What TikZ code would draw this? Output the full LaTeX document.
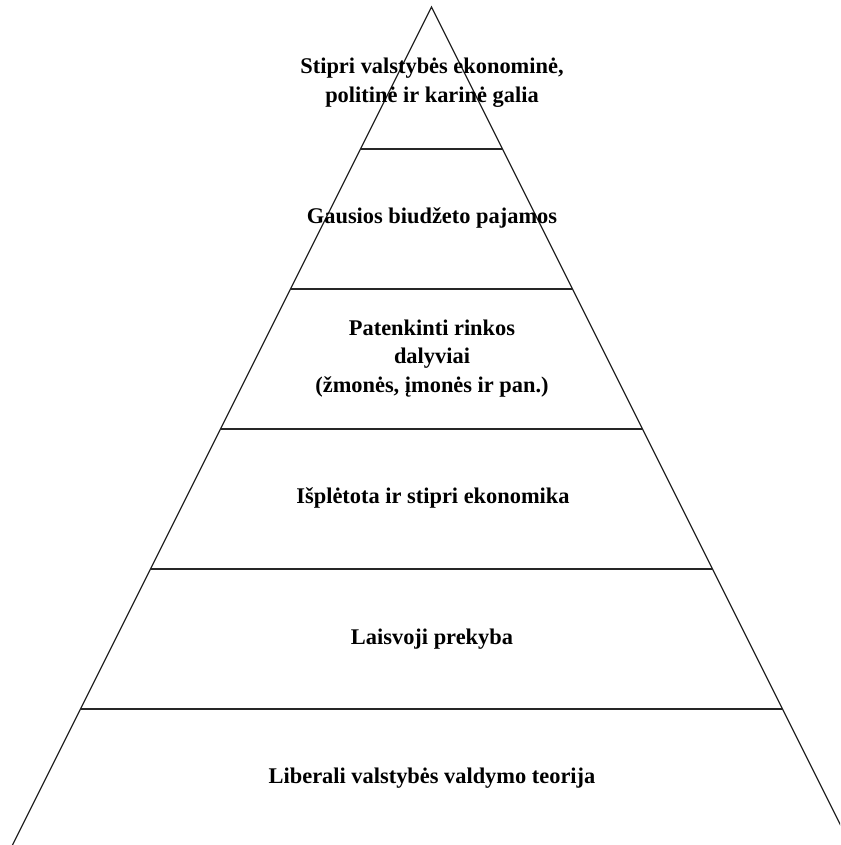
\documentclass[tikz,border=0pt]{standalone}
\usepackage{fontspec}
\setmainfont{Liberation Serif}
\begin{document}
\begin{tikzpicture}[x=0.75pt,y=-0.75pt,
  edge/.style={draw=black!85, line width=0.9pt},
  tier/.style={draw=black!85, line width=1.5pt},
  lbl/.style={font=\fontsize{16.8}{21.5}\selectfont\bfseries, align=center, inner sep=0pt}]
\useasboundingbox (0,0) rectangle (840,845);
\clip (0,0) rectangle (840,845);
\coordinate (apex) at (431.5,7);
\coordinate (bl) at (12.5,845);
\coordinate (br) at (850.5,845);
\draw[edge] (bl) -- (apex) -- (br);
\coordinate (l1) at (360.5,149); \coordinate (r1) at (502.5,149);
\coordinate (l2) at (290.5,289); \coordinate (r2) at (572.5,289);
\coordinate (l3) at (220.5,429); \coordinate (r3) at (642.5,429);
\coordinate (l4) at (150.5,569); \coordinate (r4) at (712.5,569);
\coordinate (l5) at (80.5,709);  \coordinate (r5) at (782.5,709);
\draw[tier] (l1) -- (r1);
\draw[tier] (l2) -- (r2);
\draw[tier] (l3) -- (r3);
\draw[tier] (l4) -- (r4);
\draw[tier] (l5) -- (r5);
\node[lbl] (t1) at (432,82.5) {Stipri valstybės ekonominė,\\politinė ir karinė galia};
\node[lbl] (t2) at (432,218) {Gausios biudžeto pajamos};
\node[lbl] (t3) at (432,358.5) {Patenkinti rinkos\\dalyviai\\(žmonės, įmonės ir pan.)};
\node[lbl] (t4) at (433,498) {Išplėtota ir stipri ekonomika};
\node[lbl] (t5) at (432,639) {Laisvoji prekyba};
\node[lbl] (t6) at (432,778) {Liberali valstybės valdymo teorija};
\end{tikzpicture}
\end{document}
